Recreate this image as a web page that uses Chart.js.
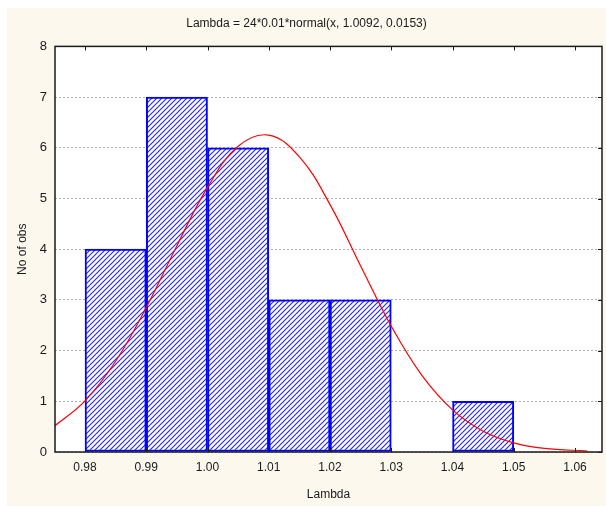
<!DOCTYPE html>
<html>
<head>
<meta charset="utf-8">
<script src="https://cdn.jsdelivr.net/npm/chart.js@4"></script>
<style>
  html, body { margin: 0; padding: 0; background: #ffffff; }
  #wrap { position: absolute; left: 7px; top: 8px; width: 599px; height: 498px; }
</style>
</head>
<body>
<div id="wrap"><canvas id="histChart" width="599" height="498"></canvas></div>
<script>
// histogram bins (centres) and counts
const binCenters = [0.985, 0.995, 1.005, 1.015, 1.025, 1.035, 1.045];
const counts = [4, 7, 6, 3, 3, 0, 1];

// fitted normal curve
const curveX = [0.975, 0.98, 0.985, 0.99, 0.995, 1.00, 1.005, 1.01, 1.015, 1.02, 1.025, 1.03, 1.035, 1.04, 1.045, 1.05, 1.055, 1.062];
const curveY = [0.51, 1.01, 1.79, 2.85, 4.07, 5.22, 6.03, 6.25, 5.82, 4.88, 3.67, 2.48, 1.51, 0.83, 0.41, 0.18, 0.07, 0.02];

const xMin = 0.9751, xMax = 1.0644;
const xTicks = [0.98, 0.99, 1.00, 1.01, 1.02, 1.03, 1.04, 1.05, 1.06];
const yTicks = [0, 1, 2, 3, 4, 5, 6, 7, 8];

const titleText = 'Lambda = 24*0.01*normal(x, 1.0092, 0.0153)';
const font = 'Liberation Sans';

// diagonal hatch fill for the bars
function makeHatch() {
    const c = document.createElement('canvas');
    c.width = 5; c.height = 5;
    const g = c.getContext('2d');
    g.fillStyle = '#ffffff';
    g.fillRect(0, 0, 5, 5);
    g.strokeStyle = '#2a2aff';
    g.lineWidth = 1.2;
    g.beginPath();
    g.moveTo(-1, 6); g.lineTo(6, -1);
    g.moveTo(-1, 1); g.lineTo(1, -1);
    g.moveTo(4, 6); g.lineTo(6, 4);
    g.stroke();
    return g.createPattern(c, 'repeat');
}

const framePlugin = {
    id: 'frame',
    beforeDraw(chart) {
        const ctx = chart.ctx, a = chart.chartArea;
        ctx.save();
        ctx.fillStyle = '#fdf8ee';
        ctx.fillRect(0, 0, chart.width, chart.height);
        ctx.fillStyle = '#ffffff';
        ctx.fillRect(a.left, a.top, a.right - a.left, a.bottom - a.top);
        ctx.restore();
    },
    afterDatasetsDraw(chart) {
        const ctx = chart.ctx, a = chart.chartArea;
        const xs = chart.scales.x, ys = chart.scales.y;
        ctx.save();
        ctx.strokeStyle = '#1a1a1a';
        ctx.lineWidth = 1.5;
        ctx.strokeRect(a.left, a.top, a.right - a.left, a.bottom - a.top);
        ctx.lineWidth = 1;
        ctx.beginPath();
        xs.ticks.forEach(t => {
            const px = Math.round(xs.getPixelForValue(t.value)) + 0.5;
            ctx.moveTo(px, a.top); ctx.lineTo(px, a.top + 4);
            ctx.moveTo(px, a.bottom); ctx.lineTo(px, a.bottom - 4);
        });
        ys.ticks.forEach(t => {
            const py = Math.round(ys.getPixelForValue(t.value)) + 0.5;
            ctx.moveTo(a.right, py); ctx.lineTo(a.right - 4, py);
        });
        ctx.stroke();
        ctx.restore();
    }
};

const ctx = document.getElementById('histChart').getContext('2d');
new Chart(ctx, {
    type: 'bar',
    data: {
        datasets: [
            {
                type: 'line',
                data: curveX.map((x, i) => ({ x: x, y: curveY[i] })),
                borderColor: '#ff0000',
                borderWidth: 1.2,
                pointRadius: 0,
                tension: 0.4,
                fill: false,
                order: 0
            },
            {
                type: 'bar',
                data: binCenters.map((x, i) => ({ x: x, y: counts[i] })),
                backgroundColor: makeHatch(),
                borderColor: '#0000ff',
                borderWidth: 2,
                borderSkipped: false,
                barPercentage: 1,
                categoryPercentage: 1,
                order: 1
            }
        ]
    },
    options: {
        responsive: false,
        animation: false,
        events: [],
        layout: { padding: { left: 4, right: 4, bottom: 0, top: 0 } },
        plugins: {
            legend: { display: false },
            tooltip: { enabled: false },
            title: {
                display: true,
                text: titleText,
                color: '#1a1a1a',
                font: { family: font, size: 12, weight: 'normal' },
                padding: { top: 8, bottom: 16 }
            }
        },
        scales: {
            x: {
                type: 'linear',
                min: xMin,
                max: xMax,
                offset: false,
                grid: { display: false, offset: false, drawTicks: false },
                border: { display: false },
                afterBuildTicks: s => { s.ticks = xTicks.map(v => ({ value: v })); },
                afterFit: s => { s.height = 54; },
                ticks: {
                    padding: 8,
                    color: '#1a1a1a',
                    font: { family: font, size: 12 },
                    callback: v => v.toFixed(2)
                },
                title: {
                    display: true,
                    text: 'Lambda',
                    color: '#1a1a1a',
                    font: { family: font, size: 12 }
                }
            },
            y: {
                min: 0,
                max: 8,
                afterBuildTicks: s => { s.ticks = yTicks.map(v => ({ value: v })); },
                afterFit: s => { s.width = 44; },
                grid: { color: '#b0b0b0', lineWidth: 1, drawTicks: false },
                border: { display: false, dash: [2, 2] },
                ticks: {
                    padding: 8,
                    color: '#1a1a1a',
                    font: { family: font, size: 13 }
                },
                title: {
                    display: true,
                    text: 'No of obs',
                    color: '#1a1a1a',
                    font: { family: font, size: 12 }
                }
            }
        }
    },
    plugins: [framePlugin]
});
</script>
</body>
</html>
